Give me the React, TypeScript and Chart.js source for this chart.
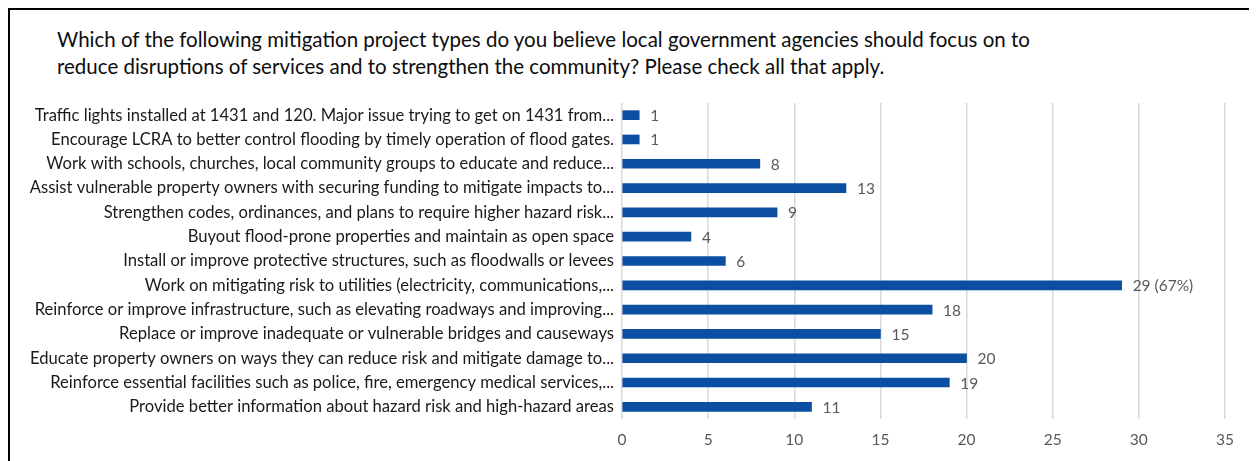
import React, { useEffect, useRef } from "react";
import { Chart, registerables } from "chart.js";

Chart.register(...registerables);

const TITLE_LINES = [
  "Which of the following mitigation project types do you believe local government agencies should focus on to",
  "reduce disruptions of services and to strengthen the community? Please check all that apply.",
];

const CATEGORIES = [
  "Traffic lights installed at 1431 and 120. Major issue trying to get on 1431 from...",
  "Encourage LCRA to better control flooding by timely operation of flood gates.",
  "Work with schools, churches, local community groups to educate and reduce...",
  "Assist vulnerable property owners with securing funding to mitigate impacts to...",
  "Strengthen codes, ordinances, and plans to require higher hazard risk...",
  "Buyout flood-prone properties and maintain as open space",
  "Install or improve protective structures, such as floodwalls or levees",
  "Work on mitigating risk to utilities (electricity, communications,...",
  "Reinforce or improve infrastructure, such as elevating roadways and improving...",
  "Replace or improve inadequate or vulnerable bridges and causeways",
  "Educate property owners on ways they can reduce risk and mitigate damage to...",
  "Reinforce essential facilities such as police, fire, emergency medical services,...",
  "Provide better information about hazard risk and high-hazard areas",
];

const RESPONSES = [1, 1, 8, 13, 9, 4, 6, 29, 18, 15, 20, 19, 11];

// Share of respondents, shown only next to the top answer
const LABEL_SUFFIX: Record<number, string> = { 7: " (67%)" };

const X_TICKS = [0, 5, 10, 15, 20, 25, 30, 35];

const FONT = "Lato, 'Open Sans', sans-serif";

const valueLabels = {
  id: "valueLabels",
  afterDatasetsDraw(chart: any) {
    const ctx = chart.ctx;
    const meta = chart.getDatasetMeta(0);
    ctx.save();
    ctx.font = `15.5px ${FONT}`;
    ctx.fillStyle = "#595959";
    ctx.textAlign = "left";
    ctx.textBaseline = "middle";
    meta.data.forEach((bar: any, i: number) => {
      const v = RESPONSES[i];
      const text = `${v}${LABEL_SUFFIX[i] ?? ""}`;
      ctx.fillText(text, bar.x + 11, bar.y + 1);
    });
    ctx.restore();
  },
};

export default function App() {
  const canvasRef = useRef<HTMLCanvasElement | null>(null);

  useEffect(() => {
    if (!canvasRef.current) return;
    const chart = new Chart(canvasRef.current, {
      type: "bar",
      data: {
        labels: CATEGORIES,
        datasets: [
          {
            data: RESPONSES,
            backgroundColor: "#0B4EA2",
            barThickness: 9,
          },
        ],
      },
      options: {
        indexAxis: "y",
        animation: false,
        responsive: true,
        maintainAspectRatio: false,
        layout: { padding: { top: 93, right: 32, bottom: 10, left: 0 } },
        plugins: {
          legend: { display: false },
          tooltip: { enabled: false },
        },
        scales: {
          x: {
            min: 0,
            max: 35,
            afterBuildTicks: (scale: any) => {
              scale.ticks = X_TICKS.map((v) => ({ value: v }));
            },
            afterFit: (scale: any) => {
              scale.height = 32;
            },
            grid: { color: "#d9d9d9", lineWidth: 1.5, drawTicks: false },
            border: { display: false },
            ticks: {
              color: "#595959",
              font: { family: FONT, size: 15.5 },
              padding: 12,
            },
          },
          y: {
            afterFit: (scale: any) => {
              scale.width = 612;
            },
            grid: { display: false, drawTicks: false },
            border: { display: false },
            ticks: {
              color: "#1a1a1a",
              font: { family: FONT, size: 16.6 },
              padding: 8,
              autoSkip: false,
            },
          },
        },
      },
      plugins: [valueLabels],
    });
    return () => chart.destroy();
  }, []);

  return (
    <div
      style={{
        position: "relative",
        width: 1247,
        height: 451,
        borderLeft: "2px solid #000",
        borderTop: "2px solid #000",
        fontFamily: FONT,
        overflow: "hidden",
      }}
    >
      <div
        style={{
          position: "absolute",
          left: 47,
          top: 16,
          fontSize: 20.5,
          lineHeight: "27px",
          color: "#0d0d0d",
          whiteSpace: "nowrap",
        }}
      >
        {TITLE_LINES.map((line) => (
          <div key={line}>{line}</div>
        ))}
      </div>
      <div style={{ position: "absolute", left: 0, top: 0, width: 1247, height: 451 }}>
        <canvas ref={canvasRef} />
      </div>
    </div>
  );
}
